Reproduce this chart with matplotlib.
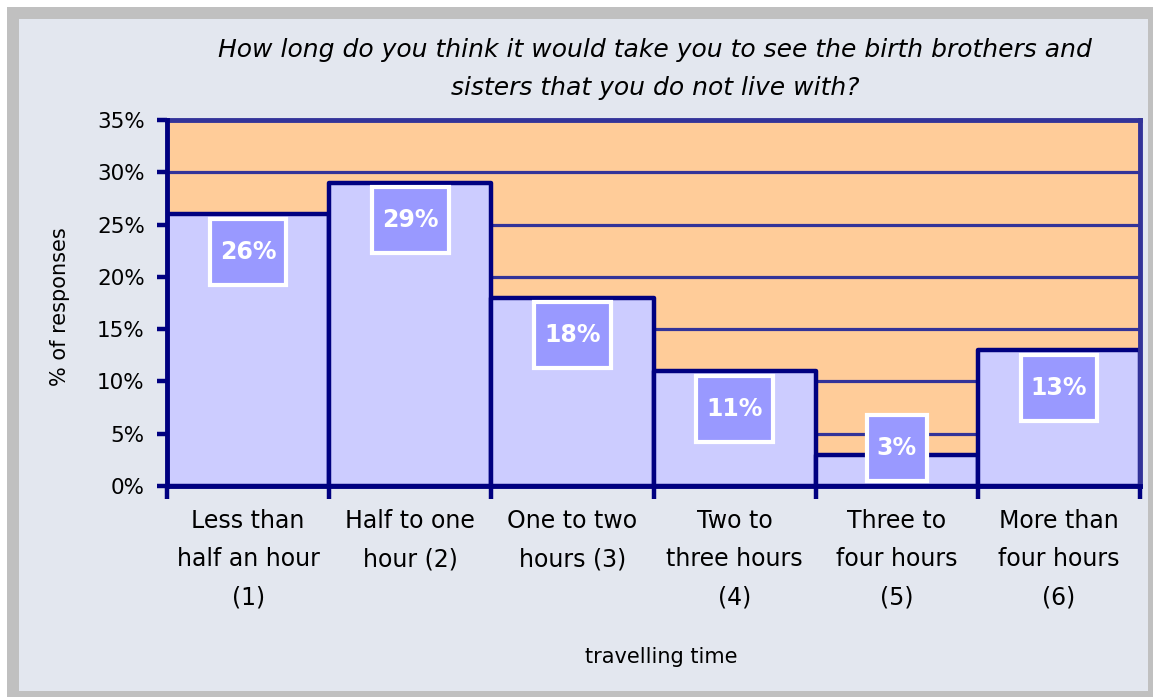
import matplotlib
matplotlib.use("Agg")
import matplotlib.pyplot as plt
from matplotlib.patches import Rectangle
from matplotlib.transforms import IdentityTransform

categories = ["Less than\nhalf an hour\n(1)", "Half to one\nhour (2)", "One to two\nhours (3)",
              "Two to\nthree hours\n(4)", "Three to\nfour hours\n(5)", "More than\nfour hours\n(6)"]
values = [26, 29, 18, 11, 3, 13]
yticks = [0, 5, 10, 15, 20, 25, 30, 35]
title = "How long do you think it would take you to see the birth brothers and\nsisters that you do not live with?"
ylabel = "% of responses"
xlabel = "travelling time"

FONT = "DejaVu Sans"
W, H = 1153, 697
fig = plt.figure(figsize=(W / 100, H / 100), dpi=100)
fig.patch.set_facecolor("white")

# frame
fig.add_artist(Rectangle((7 / W, 0), (W - 7) / W, 690 / H, transform=fig.transFigure,
                         facecolor="#C0C0C0", edgecolor="none", zorder=-10))
fig.add_artist(Rectangle((19 / W, 6 / H), 1129 / W, 672 / H, transform=fig.transFigure,
                         facecolor="#E3E7EF", edgecolor="none", zorder=-9))

ax = fig.add_axes([167 / W, 1 - 486 / H, (1140 - 167) / W, (486 - 120) / H])
ax.set_facecolor("#FFCC99")
ax.set_xlim(-0.5, len(values) - 0.5)
ax.set_ylim(0, 35)

for y in yticks[1:-1]:
    ax.axhline(y, color="#333399", lw=2.3, zorder=1)

xs = list(range(len(values)))
ax.bar(xs, values, width=1.0, color="#CCCCFF", edgecolor="#000080", linewidth=3.2,
       zorder=2, joinstyle="round")

for side in ["top", "right"]:
    ax.spines[side].set_color("#333399")
    ax.spines[side].set_linewidth(3.5)
for side in ["left", "bottom"]:
    ax.spines[side].set_color("#000080")
    ax.spines[side].set_linewidth(3.5)
    ax.spines[side].set_zorder(3)

ax.set_yticks(yticks)
ax.set_yticklabels([f"{v}%" for v in yticks], fontsize=15.5, family=FONT)
ax.tick_params(axis="y", which="major", length=7, width=3.2, color="#000080", pad=9)

ax.set_xticks([i - 0.5 for i in range(len(values) + 1)])
ax.set_xticklabels([])
ax.tick_params(axis="x", which="major", length=9, width=3.2, color="#000080")

xtr = ax.get_xaxis_transform()
for x, lab in zip(xs, categories):
    ax.text(x, -(509 - 486) / 366, lab, transform=xtr, ha="center", va="top",
            fontsize=17, family=FONT, linespacing=1.74, clip_on=False)

fig.text(655 / W, 1 - 38 / H, title, ha="center", va="top", fontsize=18, style="italic",
         family=FONT, linespacing=1.72)
fig.text(60 / W, 1 - 307 / H, ylabel, ha="center", va="center", rotation=90, fontsize=15, family=FONT)
fig.text(661 / W, 1 - 657 / H, xlabel, ha="center", va="center", fontsize=15, family=FONT)

texts = []
for x, v in zip(xs, values):
    yc = max(v - 3.6, 3.6)
    t = ax.text(x, yc, f"{v}%", ha="center", va="center", fontsize=17, fontweight="bold",
                color="white", family=FONT, zorder=6)
    texts.append(t)

fig.canvas.draw()
r = fig.canvas.get_renderer()
for t in texts:
    bb = t.get_window_extent(r)
    cx = (bb.x0 + bb.x1) / 2
    cy = ax.transData.transform((0, t.get_position()[1]))[1]
    w = bb.width + 20
    h = 66
    rect = Rectangle((cx - w / 2, cy - h / 2), w, h, transform=IdentityTransform(),
                     facecolor="#9999FF", edgecolor="white", linewidth=3, zorder=5)
    rect.set_clip_on(False)
    ax.add_artist(rect)

fig.savefig("out.png", dpi=100)
